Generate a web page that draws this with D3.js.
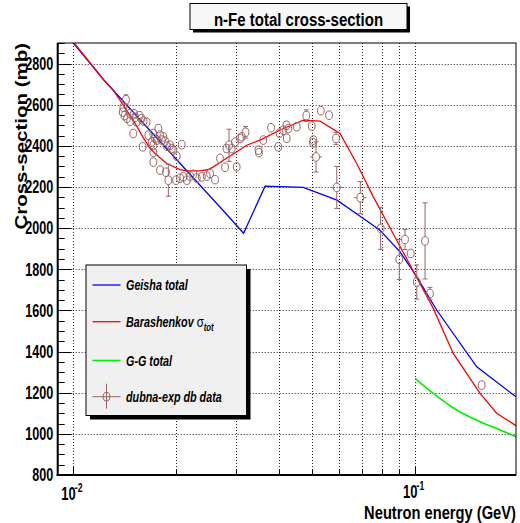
<!DOCTYPE html>
<html>
<head>
<meta charset="utf-8">
<script src="https://cdn.jsdelivr.net/npm/d3@7"></script>
<style>
  html, body { margin: 0; padding: 0; background: #fff; }
  svg { display: block; }
  text { font-family: "Liberation Sans", Arial, Helvetica, sans-serif; font-weight: bold; fill: #000; }
</style>
</head>
<body>
<svg id="chart" width="520" height="523"></svg>
<script>
// ---- Geisha total cross-section (energy in GeV, sigma in mb)
const geishaE  = [0.009, 0.0100, 0.0123, 0.0274, 0.0315, 0.0364, 0.0471, 0.0591, 0.0706, 0.0790, 0.0904, 0.1012, 0.1157, 0.1516, 0.1975];
const geishaXS = [2985, 2900, 2719, 2087, 1975, 2204, 2198, 2136, 2047, 1990, 1885, 1763, 1602, 1326, 1180];

// ---- Barashenkov sigma_tot
const baraE  = [0.009, 0.0100, 0.0123, 0.0131, 0.0140, 0.01516, 0.01586, 0.01677, 0.01754, 0.01876, 0.02052, 0.02147, 0.02349, 0.02484, 0.02569, 0.02748, 0.03007, 0.03217, 0.03519, 0.04026, 0.04711, 0.05272, 0.06032, 0.06752, 0.07551, 0.08265, 0.09041, 0.1012, 0.1131, 0.1294, 0.1550, 0.1734, 0.1975];
const baraXS = [2990, 2905, 2719, 2670, 2598, 2509, 2452, 2387, 2355, 2314, 2285, 2278, 2278, 2285, 2298, 2330, 2371, 2403, 2428, 2477, 2525, 2520, 2460, 2314, 2152, 2031, 1911, 1760, 1610, 1391, 1197, 1100, 1040];

// ---- G-G total
const ggE  = [0.1, 0.1131, 0.1324, 0.155, 0.1774, 0.1975];
const ggXS = [1270, 1197, 1116, 1059, 1019, 986];

// ---- dubna-exp db data
const dataE = [0.01426,0.01401,0.01395,0.01412,0.01436,0.01466,0.01466,0.01505,0.01516,0.01531,
               0.01562,0.01584,0.01605,0.01638,0.01498,0.01596,0.01658,0.01696,0.01715,0.01735,
               0.01715,0.01755,0.01774,0.01794,0.01815,0.01834,0.01855,0.01880,0.01919,0.01941,
               0.01962,0.02007,0.01715,0.01715,0.01794,0.01897,0.01867,0.01998,0.02053,0.02099,
               0.02148,0.02196,0.02245,0.02297,0.02376,0.02457,0.02512,0.02598,0.02076,0.02687,
               0.02780,0.02807,0.02856,0.02908,0.02973,0.03007,0.03075,0.03110,0.03192,0.03483,
               0.03495,0.03597,0.03790,0.03980,0.04013,0.04117,0.04212,0.04258,0.04206,0.04506,
               0.04808,0.04986,0.05041,0.05030,0.05133,0.05302,0.05603,0.05874,0.05902,0.06917,
               0.07934,0.08995,0.09348,0.09714,0.1012,0.1070,0.1106,0.1567];
const dataXS = [2624,2588,2564,2547,2534,2520,2556,2556,2539,2517,
                2547,2532,2520,2515,2460,2395,2452,2419,2460,2436,
                2403,2428,2484,2452,2428,2444,2423,2398,2403,2387,
                2379,2350,2369,2321,2282,2233,2272,2233,2243,2249,
                2233,2253,2262,2243,2249,2253,2266,2236,2406,2339,
                2296,2387,2403,2387,2418,2298,2436,2444,2466,2379,
                2367,2428,2488,2395,2462,2476,2437,2484,2500,2493,
                2547,2496,2428,2415,2346,2571,2549,2436,2198,2148,
                1999,1848,1945,1877,1738,1938,1682,1237];
const dataErr = [24,12,12,12,12,12,12,12,12,12,
                 12,12,12,12,12,12,12,12,12,12,
                 12,12,12,12,12,12,12,12,12,12,
                 12,12,12,12,12,78,12,12,12,12,
                 12,12,12,12,12,12,12,12,12,12,
                 12,12,78,12,12,12,12,12,28,12,
                 12,12,12,12,12,12,12,12,12,12,
                 28,12,12,12,73,12,12,30,102,78,
                 102,97,49,15,83,185,30,12];
const dataEErr = [0,0,0,0,0,0,0,0,0,0,
                  0,0,0,0,0,0,0,0,0,0,
                  0,0,0,0,0,0,0,0,0,0,
                  0,0,0,0,0,0,0,0,0,0,
                  0,0,0,0,0,0,0,0,0,0,
                  0,0,0,0,0,0,0,0,0,0,
                  0,0,0,0,0,0,0,0,0,0,
                  0,0,0,0,0.0021,0,0,0,0.0025,0.003,
                  0,0,0,0,0,0,0,0];

// ---- axis ticks and labels
const yMajor = [800, 1000, 1200, 1400, 1600, 1800, 2000, 2200, 2400, 2600, 2800];
const yMinorStep = 50;
const xDecades = [0.01, 0.1];
const xDecadeExp = ["-2", "-1"];
const xSubTicks = [0.01, 0.02, 0.03, 0.04, 0.05, 0.06, 0.07, 0.08, 0.09, 0.1];

const titleText = "n-Fe total cross-section";
const xTitle = "Neutron energy (GeV)";
const yTitle = "Cross-section (mb)";

const colGeisha = "#0000ff", colBara = "#ff0000", colGG = "#00ee00", colData = "#9a6464";

// ---- layout
const frame = { l: 57.7, r: 516, t: 43, b: 475 };
const x = d3.scaleLog().domain([0.009, 0.1975]).range([frame.l, frame.r]);
const y = d3.scaleLinear().domain([800, 2900]).range([frame.b, frame.t]);

const svg = d3.select("#chart");

// horizontally condensed text, like the original canvas font
function label(parent, px, py, str, size, sx, anchor, extra) {
  const t = parent.append("text")
    .attr("transform", `translate(${px},${py}) scale(${sx},1)` + (extra || ""))
    .attr("font-size", size)
    .attr("text-anchor", anchor || "start");
  t.text(str);
  return t;
}

// ---- grid (dotted)
const grid = svg.append("g").attr("stroke", "#222").attr("stroke-width", 1).attr("stroke-dasharray", "1 2");
grid.selectAll("line.h").data(yMajor.filter(v => v > 800)).join("line")
  .attr("x1", frame.l).attr("x2", frame.r)
  .attr("y1", d => Math.round(y(d)) + 0.5).attr("y2", d => Math.round(y(d)) + 0.5);
grid.selectAll("line.v").data(xSubTicks).join("line")
  .attr("x1", d => Math.round(x(d)) + 0.5).attr("x2", d => Math.round(x(d)) + 0.5)
  .attr("y1", frame.t).attr("y2", frame.b);

// ---- curves
svg.append("clipPath").attr("id", "clip").append("rect")
  .attr("x", frame.l).attr("y", frame.t).attr("width", frame.r - frame.l).attr("height", frame.b - frame.t);
const plot = svg.append("g").attr("clip-path", "url(#clip)");
const line = d3.line().x(d => x(d[0])).y(d => y(d[1]));
const lineSmooth = d3.line().x(d => x(d[0])).y(d => y(d[1])).curve(d3.curveMonotoneX);

plot.append("path").datum(d3.zip(geishaE, geishaXS)).attr("d", line)
  .attr("fill", "none").attr("stroke", colGeisha).attr("stroke-width", 1.3);
plot.append("path").datum(d3.zip(baraE, baraXS)).attr("d", line)
  .attr("fill", "none").attr("stroke", colBara).attr("stroke-width", 1.3);
plot.append("path").datum(d3.zip(ggE, ggXS)).attr("d", lineSmooth)
  .attr("fill", "none").attr("stroke", colGG).attr("stroke-width", 1.6);

// ---- data points with error bars
const rx = 3.4, ry = 4.3, cap = 2.5;
const pts = plot.append("g").attr("stroke", colData).attr("fill", "none").attr("stroke-width", 1);
dataE.forEach((e, i) => {
  const cx = x(e), cy = y(dataXS[i]);
  const yt = y(dataXS[i] + dataErr[i]), yb = y(dataXS[i] - dataErr[i]);
  if (cy - yt > ry) {
    pts.append("line").attr("x1", cx).attr("x2", cx).attr("y1", yt).attr("y2", cy - ry);
    pts.append("line").attr("x1", cx).attr("x2", cx).attr("y1", yb).attr("y2", cy + ry);
    pts.append("line").attr("x1", cx - cap).attr("x2", cx + cap).attr("y1", yt).attr("y2", yt);
    pts.append("line").attr("x1", cx - cap).attr("x2", cx + cap).attr("y1", yb).attr("y2", yb);
  }
  if (dataEErr[i] > 0) {
    const xl = x(e - dataEErr[i]), xr = x(e + dataEErr[i]);
    pts.append("line").attr("x1", xl).attr("x2", cx - rx).attr("y1", cy).attr("y2", cy);
    pts.append("line").attr("x1", cx + rx).attr("x2", xr).attr("y1", cy).attr("y2", cy);
  }
  pts.append("ellipse").attr("cx", cx).attr("cy", cy).attr("rx", rx).attr("ry", ry);
});

// ---- frame and axes
svg.append("rect").attr("x", frame.l).attr("y", frame.t)
  .attr("width", frame.r - frame.l).attr("height", frame.b - frame.t)
  .attr("fill", "none").attr("stroke", "#000").attr("stroke-width", 1);
svg.append("line").attr("x1", frame.l).attr("x2", frame.l).attr("y1", frame.t).attr("y2", frame.b + 1)
  .attr("stroke", "#000").attr("stroke-width", 2);
svg.append("line").attr("x1", frame.l - 1).attr("x2", frame.r).attr("y1", frame.b).attr("y2", frame.b)
  .attr("stroke", "#000").attr("stroke-width", 2);

// y ticks
const ticks = svg.append("g").attr("stroke", "#000").attr("stroke-width", 1);
const yMinor = d3.range(800, 2900 + 1, yMinorStep);
ticks.selectAll("line.ym").data(yMinor).join("line")
  .attr("x1", frame.l).attr("x2", d => frame.l + (d % 200 === 0 ? 14 : 7))
  .attr("y1", d => Math.round(y(d)) + 0.5).attr("y2", d => Math.round(y(d)) + 0.5);
// x ticks
ticks.selectAll("line.xm").data(xSubTicks).join("line")
  .attr("x1", d => Math.round(x(d)) + 0.5).attr("x2", d => Math.round(x(d)) + 0.5)
  .attr("y1", frame.b).attr("y2", d => frame.b - (xDecades.includes(d) ? 8 : 5));

// y tick labels
yMajor.forEach(v => label(svg, frame.l - 4.5, y(v) + 6.3, String(v), 17.5, 0.72, "end"));

// x decade labels: 10 with exponent
xDecades.forEach((d, i) => {
  const px = x(d), py = i === 0 ? 500 : 498;
  label(svg, px - 12, py, "10", 18, 0.72, "start");
  label(svg, px + 1.5, py - 8, xDecadeExp[i], 12, 0.72, "start");
});

// axis titles
label(svg, frame.r, 518.5, xTitle, 17.5, 0.84, "end");
label(svg, 27, frame.t, yTitle, 20.5, 0.76, "end", " rotate(-90)");

// ---- title box
svg.append("rect").attr("x", 193).attr("y", 6.5).attr("width", 217).attr("height", 26).attr("fill", "#000");
svg.append("rect").attr("x", 190).attr("y", 3.5).attr("width", 217).attr("height", 26)
  .attr("fill", "#f7f7f7").attr("stroke", "#000").attr("stroke-width", 1);
label(svg, 298.5, 26, titleText, 19, 0.79, "middle");

// ---- legend
const lg = { x: 86, y: 265, w: 160.5, h: 150.5 };
svg.append("rect").attr("x", lg.x + 4).attr("y", lg.y + 4).attr("width", lg.w).attr("height", lg.h).attr("fill", "#000");
svg.append("rect").attr("x", lg.x).attr("y", lg.y).attr("width", lg.w).attr("height", lg.h)
  .attr("fill", "#f0f0f0").attr("stroke", "#000").attr("stroke-width", 1);

const entryY = [285, 321.7, 360.5, 396.7];
const sx0 = 92.5, sx1 = 120.5, tx = 126;
[[colGeisha, 1.3], [colBara, 1.3], [colGG, 1.6]].forEach(([c, w], i) => {
  svg.append("line").attr("x1", sx0).attr("x2", sx1).attr("y1", entryY[i]).attr("y2", entryY[i])
    .attr("stroke", c).attr("stroke-width", w);
});
const lm = svg.append("g").attr("stroke", colData).attr("stroke-width", 1).attr("fill", "none");
const mx = (sx0 + sx1) / 2, my = entryY[3];
lm.append("line").attr("x1", sx0).attr("x2", sx1).attr("y1", my).attr("y2", my);
lm.append("line").attr("x1", mx).attr("x2", mx).attr("y1", my - 13).attr("y2", my + 12);
lm.append("ellipse").attr("cx", mx).attr("cy", my).attr("rx", rx).attr("ry", ry);

function legendText(i, str) {
  return label(svg, tx, entryY[i] + 5, str, 14, 0.77, "start").attr("font-style", "italic");
}
legendText(0, "Geisha total");
const bt = legendText(1, "Barashenkov ");
bt.append("tspan").attr("font-style", "normal").attr("font-weight", "normal").attr("font-size", 15).text("σ");
bt.append("tspan").attr("font-size", 10).attr("dy", 4).text("tot");
legendText(2, "G-G total");
legendText(3, "dubna-exp db data");
</script>
</body>
</html>
